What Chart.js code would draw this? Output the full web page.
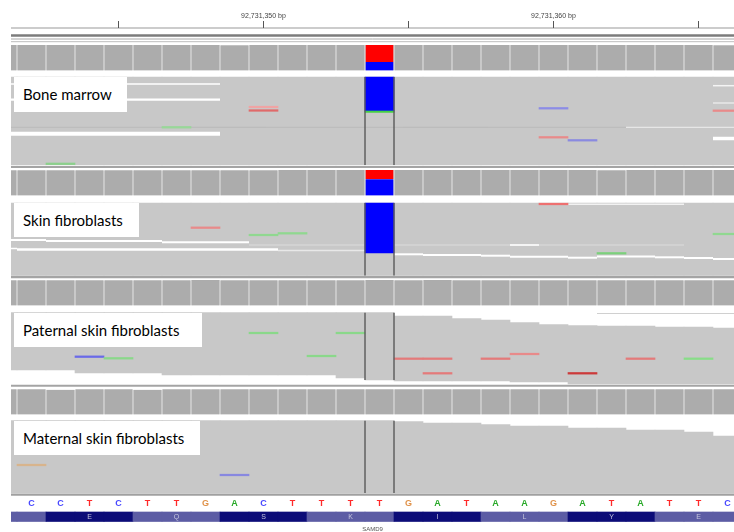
<!DOCTYPE html>
<html>
<head>
<meta charset="utf-8">
<script src="https://cdn.jsdelivr.net/npm/chart.js@4.4.1/dist/chart.umd.min.js"></script>
<style>
html, body { margin: 0; padding: 0; background: #fff; }
#wrap { position: relative; width: 734px; height: 532px; overflow: hidden; }
#igv { position: absolute; left: 0; top: 0; }
.sample { position: absolute; background: #fff; font-family: Lato, "Open Sans", sans-serif; font-size: 15px; color: #000; padding-left: 9px; box-sizing: border-box; white-space: nowrap; }
</style>
</head>
<body>
<div id="wrap">
  <canvas id="igv" width="734" height="532"></canvas>
</div>
<script>
// reference sequence, one base per column 0..24
const bases = ['C','C','T','C','T','T','G','A','C','T','T','T','T','G','A','T','A','A','G','A','T','A','T','T','C'];
const aminoAcids = ['E','Q','S','K','I','L','Y','E'];
const codonStart = 1;
const geneName = 'SAMD9';
const rulerTicks = [3, 8, 13, 18, 23];
const rulerLabels = ['', '92,731,350 bp', '', '92,731,360 bp', ''];
const sampleNames = ['Bone marrow', 'Skin fibroblasts', 'Paternal skin fibroblasts', 'Maternal skin fibroblasts'];

// columns -1 .. 24 (first and last are partly in view)
const columns = [-1,0,1,2,3,4,5,6,7,8,9,10,11,12,13,14,15,16,17,18,19,20,21,22,23,24];
const variantColumn = 12;

// read depth per column
const coverageBone     = [61,61,61,61,61,61,61,61,60,61,61,61,61,61,61,61,61,61,61,61,61,61,61,61,61,60];
const coverageSkin     = [60,60,60,60,60,60,60,60,60,60,61,61,61,61,61,61,61,61,61,61,61,60,61,61,61,61];
const coveragePaternal = [60,60,60,60,60,60,60,61,60,60,60,60,60,61,60,61,60,60,60,60,60,60,60,60,60,60];
const coverageMaternal = [60,60,59,60,60,59,60,60,60,60,60,60,60,60,60,60,60,60,60,60,60,60,60,60,60,60];
// reads carrying C at the variant column
const altCount = [20, 39, 0, 0];
const maxDepth = 62;

// read stack extent per column (track rows)
const readTopBone     = [77,77,77,77,77,77,77,77,77,77,77,77,77,77,77,77,77,77,77,77,77,77,77,77,77,77];
const readBottomBone  = [165,165,165,165,165,165,165,165,165,165,165,165,165,165,165,165,165,165,165,165,165,165,165,165,165,165];
const readTopSkin     = [203,203,203,203,203,203,203,203,203,203,203,203,203,203,203,203,203,203,203,203,203,203,203,203,203,203];
const readBottomSkin  = [275.5,275.5,275.5,275.5,275.5,275.5,275.5,275.5,275.5,275.5,275.5,275.5,275.5,275.5,275.5,275.5,275.5,275.5,275.5,275.5,275.5,275.5,275.5,275.5,275.5,275.5];
const readTopPaternal = [312.7,312.7,312.7,312.7,312.7,312.7,312.7,312.7,312.7,312.7,312.7,312.7,312.7,312.7,316,316,318.5,320,322.5,324.5,325.5,326,326,327,327,328];
const readBottomPaternal = [370,370,370,373,373,373,375,375,375,375,375,375,378,380,381,381,381,381,382,382,384,384,384,384,384,384];
const readTopMaternal = [420.7,420.7,420.7,420.7,420.7,420.7,420.7,420.7,420.7,420.7,420.7,420.7,420.7,420.7,421.5,423,423,424.5,426,426,428,428,430,430,432,436];
const readBottomMaternal = [493,493,493,493,493,493,493,493,493,493,493,493,493,493,493,493,493,493,493,493,493,493,493,493,493,493];

// variant blocks in the read stacks at the variant column: [top, bottom]
const variantReadsBone = [77, 111];
const variantReadsSkin = [203, 253];

// single mismatches: [column, row, colour]
const mismatchesBone = [[8,107,'#f0a4a4'],[8,110.5,'#e06a6a'],[5,127.3,'#98d898'],[1,163.8,'#8cd08c'],[18,108.3,'#8c8ce6'],[18,137.3,'#e88a8a'],[19,140.3,'#8a8ae0'],[24,110.7,'#e88a8a']];
const mismatchesSkin = [[6,227.7,'#e88a8a'],[8,235,'#90d890'],[9,233.3,'#90d890'],[18,204,'#ee7070'],[20,253.3,'#7cd07c'],[24,234,'#90d890']];
const mismatchesPaternal = [[2,356.7,'#6a6ae8'],[3,358.3,'#8ad88a'],[8,333,'#8ad88a'],[11,333,'#8ad88a'],[10,356,'#8ad88a'],[13,358.7,'#e47a7a'],[14,358.7,'#e47a7a'],[14,373.3,'#e47a7a'],[16,358.7,'#e47a7a'],[17,354,'#e88a8a'],[19,373.3,'#cc3a3a'],[21,358.7,'#e47a7a'],[23,358.7,'#88dd88']];
const mismatchesMaternal = [[0,465,'#d8b48c'],[7,475,'#8888e0']];

// read ends / gaps inside the stacks: [fromColumn, toColumn, row, width, colour]
const gapsBone = [[-1,6,84,1.5,'#ffffff'],[-1,6,99.6,2.2,'#ffffff'],[-1,20,127.3,1,'#bababa'],[21,24,127.3,1.2,'#e6e6e6'],[-1,6,133.8,4,'#ffffff'],
  [24,24,85.7,1.5,'#f4f4f4'],[24,24,103,1.5,'#e8e8e8'],[24,24,138.5,3.5,'#ffffff']];
const gapsSkin = [[19,22,204.3,1.5,'#f2f2f2'],[-1,0,240,2,'#ffffff'],[1,4,241,2,'#ffffff'],[5,7,242.2,2,'#ffffff'],[8,22,245,1.2,'#dcdcdc'],[17,17,245,1.5,'#ffffff'],
  [-1,-1,248.5,1.5,'#ffffff'],[0,8,249.5,2.5,'#ffffff'],[9,11,250.5,1.5,'#e8e8e8'],
  [13,13,254.3,2,'#ffffff'],[14,15,255,2,'#ffffff'],[16,16,255.7,2,'#ffffff'],[17,18,256.7,2,'#ffffff'],[19,19,257.7,2,'#ffffff'],
  [20,21,256.5,2,'#ffffff'],[22,22,257.3,2,'#ffffff'],[23,23,258,2,'#ffffff'],[24,24,259,2,'#ffffff']];
const gapsPaternal = [[20,24,313.5,1,'#d0d0d0']];
const gapsMaternal = [];

const baseColors = { A: '#26a826', C: '#4848ff', G: '#e0924a', T: '#ff2a2a' };

// ---- layout of the panel (track rows) ----
const xMin = -0.707, xMax = 24.224;
const coverageBottom = [70.5, 195.5, 305.5, 414.5];
const coverageHeight = 26;
const labelBoxes = [
  { left: 14, top: 77, width: 113, height: 35 },
  { left: 14, top: 203, width: 125, height: 34 },
  { left: 14, top: 313, width: 188, height: 34 },
  { left: 14, top: 421, width: 186, height: 34 }
];

const datasets = [];

function addBars(points, color, extra) {
  datasets.push(Object.assign({ type: 'bar', data: points, backgroundColor: color, borderWidth: 0, clip: 0 }, extra || {}));
}
function addLines(segs, color, width) {
  const data = [];
  segs.forEach(function (s) {
    data.push({ x: s[0], y: s[1] }, { x: s[2], y: s[3] }, { x: s[2], y: null });
  });
  datasets.push({ type: 'line', data: data, borderColor: color, borderWidth: width, pointRadius: 0, fill: false, spanGaps: false, tension: 0, clip: 0 });
}

// ruler and track separators
addLines([[xMin, 28, xMax, 28]], '#9a9a9a', 1.2);
addLines(rulerTicks.map(function (t) { return [t, 21, t, 28]; }), '#555555', 1);
addLines([[xMin, 35.5, xMax, 35.5]], '#7c7c7c', 2.5);
addLines([[xMin, 39, xMax, 39]], '#a8a8a8', 1);
addLines([[xMin, 41.7, xMax, 41.7]], '#bdbdbd', 1);
addLines([[xMin, 167, xMax, 167]], '#a4a4a4', 2);
addLines([[xMin, 277, xMax, 277]], '#a4a4a4', 2.5);
addLines([[xMin, 385.8, xMax, 385.8]], '#a4a4a4', 2);
addLines([[xMin, 494.6, xMax, 494.6]], '#a0a0a0', 2.4);

// coverage tracks
const coverage = [coverageBone, coverageSkin, coveragePaternal, coverageMaternal];
coverage.forEach(function (depth, t) {
  const bottom = coverageBottom[t];
  const h = function (v) { return coverageHeight * v / maxDepth; };
  const gray = [], ref = [], alt = [];
  columns.forEach(function (c, i) {
    const top = bottom - h(depth[i]);
    if (c === variantColumn && altCount[t] > 0) {
      ref.push({ x: c, y: [top, bottom - h(altCount[t])] });
      alt.push({ x: c, y: [bottom - h(altCount[t]), bottom] });
    } else {
      gray.push({ x: c, y: [top, bottom] });
    }
  });
  const border = { borderColor: '#d6d6d6', borderWidth: { left: 1, right: 1, top: 0, bottom: 0 }, borderSkipped: false };
  addBars(gray, '#acacac', border);
  if (ref.length) { addBars(ref, '#ff0000', border); addBars(alt, '#0000ff', border); }
});

// read stacks
const readTops = [readTopBone, readTopSkin, readTopPaternal, readTopMaternal];
const readBottoms = [readBottomBone, readBottomSkin, readBottomPaternal, readBottomMaternal];
const gaps = [gapsBone, gapsSkin, gapsPaternal, gapsMaternal];
const mismatches = [mismatchesBone, mismatchesSkin, mismatchesPaternal, mismatchesMaternal];
readTops.forEach(function (tops, t) {
  addBars(columns.map(function (c, i) { return { x: c, y: [tops[i], readBottoms[t][i]] }; }), '#c8c8c8');
  gaps[t].forEach(function (g) {
    addLines([[g[0] - 0.5, g[2], g[1] + 0.5, g[2]]], g[4], g[3]);
  });
});
addBars([{ x: variantColumn, y: variantReadsBone }], '#0000ff');
addBars([{ x: variantColumn, y: [variantReadsBone[1], variantReadsBone[1] + 1.4] }], '#44d044');
addBars([{ x: variantColumn, y: variantReadsSkin }], '#0000ff');
mismatches.forEach(function (list) {
  list.forEach(function (m) { addBars([{ x: m[0], y: [m[1] - 0.8, m[1] + 0.8] }], m[2]); });
});
// centre guide lines around the variant column
readTops.forEach(function (tops, t) {
  const top = tops[columns.indexOf(variantColumn)];
  const bottom = readBottoms[t][columns.indexOf(variantColumn)];
  addLines([[variantColumn - 0.5, top, variantColumn - 0.5, bottom], [variantColumn + 0.5, top, variantColumn + 0.5, bottom]], '#5a5a5a', 1.4);
});

// amino acid band
addBars(columns.map(function (c) {
  return { x: c, y: [512, 521.5] };
}), columns.map(function (c) {
  const k = Math.floor((c - codonStart) / 3);
  return (k % 2 === 0) ? '#0c0c78' : '#5c5ca4';
}));

// earlier datasets are painted first
datasets.forEach(function (d, i) { d.order = datasets.length - i; });

const textPlugin = {
  id: 'igvText',
  afterDatasetsDraw: function (chart) {
    const ctx = chart.ctx, x = chart.scales.x, y = chart.scales.y;
    ctx.save();
    ctx.textAlign = 'center';
    ctx.textBaseline = 'middle';
    ctx.font = '7px "Liberation Sans", Arial, sans-serif';
    ctx.fillStyle = '#444';
    rulerTicks.forEach(function (t, i) {
      if (rulerLabels[i]) ctx.fillText(rulerLabels[i], x.getPixelForValue(t), y.getPixelForValue(16));
    });
    ctx.font = 'bold 9px "Liberation Sans", Arial, sans-serif';
    bases.forEach(function (b, i) {
      ctx.fillStyle = baseColors[b];
      ctx.fillText(b, x.getPixelForValue(i), y.getPixelForValue(504));
    });
    ctx.font = '7px "Liberation Sans", Arial, sans-serif';
    ctx.fillStyle = '#c4c4dc';
    aminoAcids.forEach(function (a, k) {
      ctx.fillText(a, x.getPixelForValue(codonStart + 3 * k + 1), y.getPixelForValue(517));
    });
    ctx.font = '6px "Liberation Sans", Arial, sans-serif';
    ctx.fillStyle = '#555';
    ctx.fillText(geneName, x.getPixelForValue((xMin + xMax) / 2), y.getPixelForValue(529.5));
    ctx.restore();
  }
};

new Chart(document.getElementById('igv'), {
  type: 'bar',
  data: { datasets: datasets },
  options: {
    responsive: false,
    animation: false,
    devicePixelRatio: 1,
    layout: { padding: { left: 11, right: 0, top: 0, bottom: 0 } },
    datasets: { bar: { grouped: false, categoryPercentage: 1, barPercentage: 1 } },
    plugins: { legend: { display: false }, tooltip: { enabled: false } },
    scales: {
      x: { type: 'linear', min: xMin, max: xMax, offset: false, display: false },
      y: { type: 'linear', min: 0, max: 532, reverse: true, display: false }
    }
  },
  plugins: [textPlugin]
});

// sample names
const wrap = document.getElementById('wrap');
sampleNames.forEach(function (name, i) {
  const b = labelBoxes[i];
  const div = document.createElement('div');
  div.className = 'sample';
  div.style.left = b.left + 'px';
  div.style.top = b.top + 'px';
  div.style.width = b.width + 'px';
  div.style.height = b.height + 'px';
  div.style.lineHeight = b.height + 'px';
  div.textContent = name;
  wrap.appendChild(div);
});
</script>
</body>
</html>
